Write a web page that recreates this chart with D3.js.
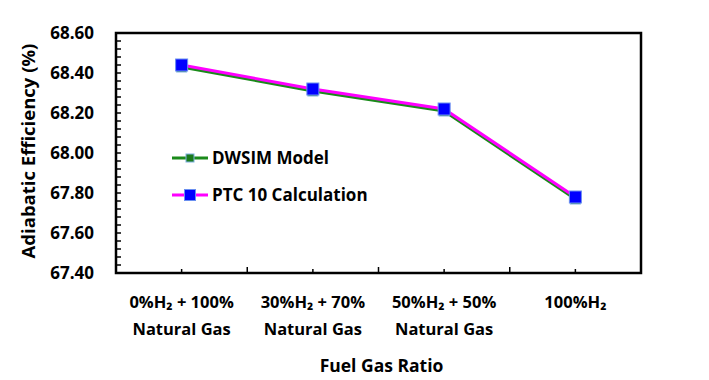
<html>
<head>
<meta charset="utf-8">
<title></title>
<style>
  body { margin: 0; background: #fff; }
  text { font-family: "Open Sans", "Liberation Sans", sans-serif; font-weight: bold; fill: #000; }
</style>
</head>
<body>
<script src="https://d3js.org/d3.v7.min.js"></script>
<script type="text/javascript">

var categories = [["0%H\u2082 + 100%", "Natural Gas"], ["30%H\u2082 + 70%", "Natural Gas"], ["50%H\u2082 + 50%", "Natural Gas"], ["100%H\u2082"]];
var dwsim = [68.43, 68.31, 68.21, 67.77];
var ptc = [68.44, 68.32, 68.22, 67.78];
var yTicks = [67.40, 67.60, 67.80, 68.00, 68.20, 68.40, 68.60];
var seriesNames = ["DWSIM Model", "PTC 10 Calculation"];

var width = 709, height = 380;
var plotL = 116, plotR = 641, plotT = 33, plotB = 273;

var svg = d3.select("body").append("svg").attr("width", width).attr("height", height);

var x = d3.scaleBand().domain(d3.range(categories.length)).range([plotL, plotR]);
var y = d3.scaleLinear().domain([67.4, 68.6]).range([plotB, plotT]);

// frame
svg.append("rect")
   .attr("x", plotL).attr("y", plotT)
   .attr("width", plotR - plotL).attr("height", plotB - plotT)
   .attr("fill", "none").attr("stroke", "#000").attr("stroke-width", 2.5);

// y minor ticks (inward)
var minor = d3.range(0, 31).map(function(i) { return 67.4 + i * 0.04; });
svg.append("g").selectAll("line").data(minor).enter().append("line")
   .attr("x1", plotL).attr("x2", plotL + 5)
   .attr("y1", function(d) { return y(d); }).attr("y2", function(d) { return y(d); })
   .attr("stroke", "#000").attr("stroke-width", 1.5);

// y labels
svg.append("g").selectAll("text").data(yTicks).enter().append("text")
   .attr("x", plotL - 22).attr("y", function(d) { return y(d); })
   .attr("dy", "0.35em").attr("text-anchor", "end")
   .style("font-size", "17px")
   .text(function(d) { return d.toFixed(2); });

// x ticks: tall at boundaries, short at centres
var bounds = d3.range(categories.length + 1).map(function(i) { return plotL + i * x.bandwidth(); });
svg.append("g").selectAll("line").data(bounds).enter().append("line")
   .attr("x1", function(d) { return d; }).attr("x2", function(d) { return d; })
   .attr("y1", plotB).attr("y2", plotB - 6)
   .attr("stroke", "#000").attr("stroke-width", 1.5);
svg.append("g").selectAll("line").data(d3.range(categories.length)).enter().append("line")
   .attr("x1", function(d) { return x(d) + x.bandwidth() / 2; })
   .attr("x2", function(d) { return x(d) + x.bandwidth() / 2; })
   .attr("y1", plotB).attr("y2", plotB - 4)
   .attr("stroke", "#000").attr("stroke-width", 1.5);

// x labels
var xl = svg.append("g").selectAll("text").data(categories).enter().append("text")
   .attr("x", function(d, i) { return x(i) + x.bandwidth() / 2; })
   .attr("y", 308)
   .attr("text-anchor", "middle")
   .style("font-size", "16.5px");
xl.selectAll("tspan").data(function(d) { return d; }).enter().append("tspan")
   .attr("x", function() { return d3.select(this.parentNode).attr("x"); })
   .attr("dy", function(d, i) { return i == 0 ? 0 : 27; })
   .text(function(d) { return d; });

// axis titles
svg.append("text")
   .attr("x", (plotL + plotR) / 2 + 3).attr("y", 372)
   .attr("text-anchor", "middle").style("font-size", "17.5px")
   .text("Fuel Gas Ratio");
svg.append("text")
   .attr("transform", "translate(35," + ((plotT + plotB) / 2 - 2) + ") rotate(-90)")
   .attr("text-anchor", "middle").style("font-size", "18.5px")
   .text("Adiabatic Efficiency (%)");

var cx = function(d, i) { return x(i) + x.bandwidth() / 2; };
var line = d3.line().x(cx).y(function(d) { return y(d); });

// DWSIM
svg.append("path").datum(dwsim).attr("d", line)
   .attr("fill", "none").attr("stroke", "#1a8a1a").attr("stroke-width", 3);
// PTC
svg.append("path").datum(ptc).attr("d", line)
   .attr("fill", "none").attr("stroke", "#ff00ff").attr("stroke-width", 3);

svg.append("g").selectAll("rect").data(dwsim).enter().append("rect")
   .attr("x", function(d, i) { return cx(d, i) - 5; }).attr("y", function(d) { return y(d) - 5; })
   .attr("width", 10).attr("height", 10)
   .attr("fill", "#1a7a1a").attr("stroke", "#7fb0e0").attr("stroke-width", 1);
svg.append("g").selectAll("rect").data(ptc).enter().append("rect")
   .attr("x", function(d, i) { return cx(d, i) - 6; }).attr("y", function(d) { return y(d) - 6; })
   .attr("width", 12).attr("height", 12)
   .attr("fill", "#0000ff").attr("stroke", "#6a8ff0").attr("stroke-width", 1);

// legend
var legColors = [["#1a8a1a", "#1a7a1a", 8], ["#ff00ff", "#0000ff", 11]];
var leg = svg.append("g").selectAll("g").data(seriesNames).enter().append("g")
   .attr("transform", function(d, i) { return "translate(172," + (158 + i * 37) + ")"; });
leg.append("line").attr("x1", 0).attr("x2", 36).attr("y1", 0).attr("y2", 0)
   .attr("stroke", function(d, i) { return legColors[i][0]; }).attr("stroke-width", 3);
leg.append("rect")
   .attr("x", function(d, i) { return 18 - legColors[i][2] / 2; })
   .attr("y", function(d, i) { return -legColors[i][2] / 2; })
   .attr("width", function(d, i) { return legColors[i][2]; })
   .attr("height", function(d, i) { return legColors[i][2]; })
   .attr("fill", function(d, i) { return legColors[i][1]; })
   .attr("stroke", function(d, i) { return i == 0 ? "#7fb0e0" : "#6a8ff0"; });
leg.append("text").attr("x", 40).attr("y", 0).attr("dy", "0.35em")
   .style("font-size", "17px")
   .text(function(d) { return d; });

</script>
</body>
</html>
